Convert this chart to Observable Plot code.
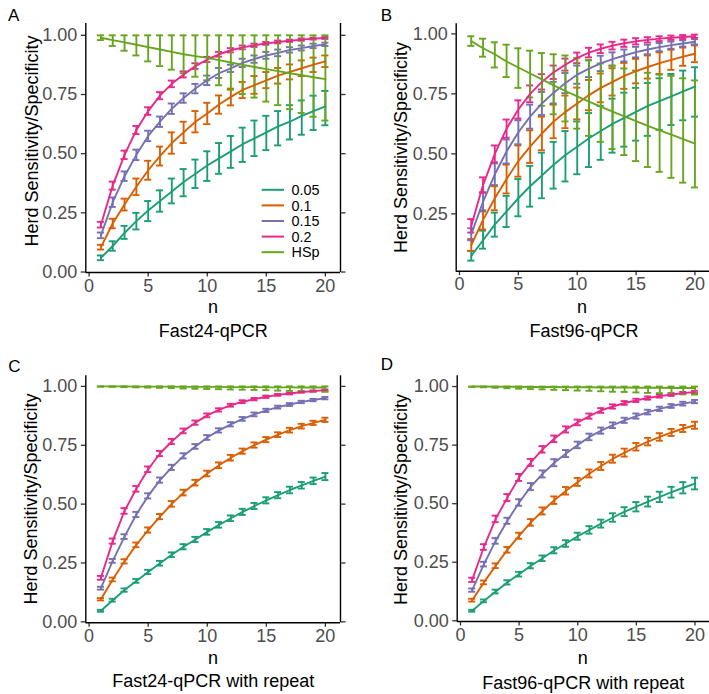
<!DOCTYPE html>
<html><head><meta charset="utf-8">
<script src="https://cdn.jsdelivr.net/npm/d3@7"></script>
<script src="https://cdn.jsdelivr.net/npm/@observablehq/plot@0.6"></script>
<style>
body{margin:0;background:#fff;}
#root{position:relative;width:709px;height:694px;overflow:hidden;background:#fff;font-family:"Liberation Sans",Arial,sans-serif;}
</style></head><body><div id="root"></div>
<script>
const n = [1,2,3,4,5,6,7,8,9,10,11,12,13,14,15,16,17,18,19,20];
const seriesNames = ["0.05","0.1","0.15","0.2","HSp"];
const colors = ["#1B9E77","#D95F02","#7570B3","#E7298A","#66A61E"];
const yTicks = [0,0.25,0.5,0.75,1];
const xTicks = [0,5,10,15,20];
const panelLetters = ["A","B","C","D"];
const captions = ["Fast24-qPCR","Fast96-qPCR","Fast24-qPCR with repeat","Fast96-qPCR with repeat"];
const yTitle = "Herd Sensitivity/Specificity";
const xTitle = "n";

// Panel A: Fast24-qPCR
const A_p05 = [0.06,0.11,0.165,0.215,0.26,0.30,0.34,0.38,0.415,0.45,0.48,0.51,0.54,0.565,0.59,0.615,0.635,0.66,0.68,0.70];
const A_p05_lo = [0.05,0.09,0.14,0.18,0.215,0.255,0.29,0.32,0.355,0.385,0.415,0.44,0.465,0.49,0.515,0.535,0.56,0.58,0.60,0.62];
const A_p05_hi = [0.07,0.13,0.195,0.25,0.30,0.345,0.395,0.435,0.475,0.51,0.545,0.575,0.61,0.64,0.66,0.68,0.705,0.725,0.745,0.765];
const A_p10 = [0.105,0.205,0.285,0.36,0.43,0.49,0.545,0.59,0.635,0.67,0.708,0.74,0.77,0.79,0.81,0.83,0.846,0.861,0.876,0.89];
const A_p10_lo = [0.095,0.185,0.26,0.325,0.39,0.45,0.5,0.545,0.59,0.625,0.669,0.704,0.735,0.753,0.777,0.796,0.814,0.828,0.845,0.866];
const A_p10_hi = [0.115,0.225,0.31,0.395,0.47,0.53,0.59,0.635,0.68,0.715,0.746,0.775,0.803,0.828,0.845,0.862,0.877,0.894,0.906,0.915];
const A_p15 = [0.155,0.295,0.405,0.495,0.575,0.635,0.69,0.735,0.775,0.81,0.84,0.86,0.884,0.90,0.915,0.926,0.938,0.946,0.955,0.962];
const A_p15_lo = [0.143,0.275,0.385,0.473,0.553,0.613,0.668,0.715,0.755,0.79,0.82,0.845,0.866,0.884,0.901,0.912,0.927,0.936,0.946,0.955];
const A_p15_hi = [0.167,0.315,0.425,0.517,0.597,0.657,0.712,0.755,0.795,0.83,0.862,0.876,0.901,0.915,0.93,0.94,0.95,0.957,0.965,0.969];
const A_p20 = [0.20,0.365,0.495,0.60,0.68,0.745,0.795,0.835,0.87,0.898,0.92,0.937,0.949,0.958,0.966,0.972,0.977,0.982,0.986,0.989];
const A_p20_lo = [0.188,0.348,0.477,0.583,0.664,0.73,0.781,0.822,0.858,0.887,0.91,0.928,0.941,0.951,0.96,0.966,0.972,0.977,0.982,0.985];
const A_p20_hi = [0.212,0.382,0.513,0.617,0.696,0.76,0.809,0.848,0.882,0.909,0.93,0.946,0.957,0.965,0.972,0.978,0.982,0.987,0.99,0.993];
const A_hsp = [0.99,0.98,0.97,0.96,0.95,0.94,0.93,0.92,0.912,0.905,0.895,0.885,0.875,0.866,0.857,0.849,0.84,0.832,0.823,0.815];
const A_hsp_lo = [0.98,0.955,0.935,0.915,0.89,0.87,0.855,0.84,0.825,0.81,0.789,0.77,0.752,0.737,0.72,0.705,0.688,0.672,0.656,0.64];
const A_hsp_hi = [1,1,1,1,1,1,1,1,1,1,1,1,1,1,1,1,1,1,1,1];

// Panel B: Fast96-qPCR
const B_p05 = [0.075,0.14,0.205,0.26,0.315,0.365,0.41,0.455,0.495,0.53,0.565,0.595,0.625,0.65,0.675,0.70,0.72,0.74,0.76,0.78];
const B_p05_lo = [0.055,0.105,0.155,0.195,0.24,0.28,0.315,0.355,0.385,0.415,0.445,0.475,0.505,0.53,0.555,0.575,0.60,0.62,0.64,0.655];
const B_p05_hi = [0.095,0.18,0.255,0.325,0.395,0.45,0.505,0.55,0.595,0.635,0.67,0.70,0.73,0.755,0.775,0.795,0.815,0.833,0.847,0.861];
const B_p10 = [0.12,0.225,0.315,0.395,0.47,0.53,0.585,0.635,0.675,0.71,0.745,0.775,0.80,0.825,0.845,0.862,0.878,0.892,0.905,0.917];
const B_p10_lo = [0.095,0.185,0.265,0.335,0.405,0.462,0.515,0.565,0.607,0.644,0.682,0.715,0.743,0.771,0.794,0.814,0.833,0.85,0.867,0.882];
const B_p10_hi = [0.145,0.265,0.365,0.455,0.535,0.598,0.655,0.705,0.743,0.776,0.808,0.835,0.857,0.879,0.896,0.91,0.923,0.934,0.943,0.952];
const B_p15 = [0.165,0.30,0.415,0.51,0.59,0.655,0.71,0.755,0.795,0.83,0.855,0.877,0.895,0.91,0.924,0.935,0.945,0.953,0.96,0.967];
const B_p15_lo = [0.14,0.26,0.37,0.46,0.54,0.605,0.662,0.71,0.753,0.792,0.82,0.845,0.867,0.885,0.902,0.915,0.928,0.938,0.947,0.956];
const B_p15_hi = [0.19,0.34,0.46,0.56,0.64,0.705,0.758,0.80,0.837,0.868,0.89,0.909,0.923,0.935,0.946,0.955,0.962,0.968,0.973,0.978];
const B_p20 = [0.20,0.37,0.50,0.605,0.685,0.75,0.80,0.84,0.872,0.90,0.922,0.938,0.951,0.961,0.969,0.975,0.98,0.984,0.987,0.99];
const B_p20_lo = [0.172,0.338,0.465,0.567,0.647,0.715,0.768,0.812,0.847,0.878,0.902,0.92,0.935,0.946,0.956,0.964,0.97,0.975,0.979,0.983];
const B_p20_hi = [0.228,0.402,0.535,0.643,0.723,0.785,0.832,0.868,0.897,0.922,0.942,0.956,0.967,0.976,0.982,0.986,0.99,0.993,0.995,0.997];
const B_hsp = [0.97,0.94,0.915,0.885,0.86,0.835,0.81,0.785,0.762,0.74,0.718,0.697,0.676,0.656,0.636,0.617,0.598,0.58,0.561,0.543];
const B_hsp_lo = [0.95,0.905,0.86,0.82,0.775,0.735,0.70,0.665,0.635,0.605,0.575,0.55,0.52,0.495,0.47,0.445,0.425,0.40,0.38,0.36];
const B_hsp_hi = [0.99,0.98,0.965,0.955,0.94,0.93,0.92,0.915,0.91,0.90,0.89,0.877,0.868,0.856,0.847,0.838,0.83,0.825,0.815,0.806];

// Panel C: Fast24-qPCR with repeat (mean and half-width of the error bar)
const C_p05 = [0.047,0.092,0.135,0.174,0.212,0.249,0.285,0.319,0.35,0.382,0.412,0.44,0.467,0.492,0.516,0.538,0.56,0.58,0.599,0.617];
const C_p05_err = [0.004,0.006,0.007,0.008,0.009,0.01,0.01,0.011,0.011,0.012,0.012,0.012,0.013,0.013,0.013,0.013,0.014,0.014,0.014,0.015];
const C_p10 = [0.096,0.18,0.257,0.327,0.39,0.447,0.501,0.549,0.591,0.63,0.665,0.697,0.725,0.751,0.774,0.795,0.814,0.831,0.845,0.858];
const C_p10_err = [0.005,0.008,0.009,0.01,0.011,0.011,0.012,0.012,0.012,0.012,0.012,0.012,0.011,0.011,0.011,0.01,0.01,0.01,0.009,0.009];
const C_p15 = [0.143,0.259,0.362,0.456,0.535,0.602,0.656,0.705,0.745,0.783,0.813,0.839,0.862,0.881,0.898,0.912,0.923,0.934,0.942,0.95];
const C_p15_err = [0.006,0.008,0.01,0.011,0.011,0.011,0.011,0.011,0.01,0.01,0.009,0.009,0.008,0.008,0.007,0.006,0.006,0.005,0.005,0.005];
const C_p20 = [0.187,0.343,0.471,0.565,0.648,0.715,0.766,0.811,0.846,0.877,0.9,0.92,0.935,0.946,0.956,0.964,0.97,0.976,0.98,0.984];
const C_p20_err = [0.008,0.011,0.012,0.012,0.012,0.011,0.011,0.01,0.009,0.008,0.007,0.006,0.006,0.005,0.005,0.004,0.004,0.003,0.003,0.003];
const C_hsp = [1.0,1.0,1.0,0.999,0.999,0.999,0.999,0.998,0.998,0.998,0.998,0.997,0.997,0.997,0.996,0.996,0.996,0.995,0.995,0.995];
const C_hsp_lo = [0.999,0.998,0.997,0.996,0.995,0.994,0.993,0.991,0.99,0.989,0.988,0.987,0.986,0.985,0.984,0.982,0.981,0.98,0.979,0.977];
const C_hsp_hi = [1,1,1,1,1,1,1,1,1,1,1,1,1,1,1,1,1,1,1,1];

// Panel D: Fast96-qPCR with repeat
const D_p05 = [0.043,0.085,0.125,0.164,0.199,0.235,0.267,0.301,0.33,0.361,0.388,0.415,0.441,0.466,0.487,0.509,0.529,0.549,0.568,0.586];
const D_p05_err = [0.004,0.006,0.008,0.009,0.01,0.011,0.012,0.013,0.014,0.015,0.016,0.017,0.018,0.019,0.02,0.021,0.022,0.023,0.024,0.025];
const D_p10 = [0.088,0.164,0.235,0.303,0.363,0.42,0.469,0.515,0.555,0.593,0.629,0.661,0.692,0.718,0.743,0.765,0.785,0.804,0.821,0.835];
const D_p10_err = [0.006,0.008,0.01,0.012,0.013,0.014,0.015,0.016,0.016,0.017,0.017,0.017,0.017,0.017,0.016,0.016,0.016,0.015,0.015,0.015];
const D_p15 = [0.131,0.242,0.341,0.427,0.505,0.573,0.627,0.675,0.714,0.751,0.785,0.812,0.835,0.856,0.874,0.891,0.905,0.917,0.927,0.936];
const D_p15_err = [0.007,0.01,0.012,0.013,0.014,0.015,0.015,0.015,0.015,0.014,0.014,0.013,0.012,0.011,0.011,0.01,0.009,0.008,0.008,0.007];
const D_p20 = [0.175,0.315,0.435,0.526,0.612,0.676,0.732,0.777,0.817,0.847,0.874,0.898,0.915,0.93,0.941,0.951,0.959,0.966,0.972,0.977];
const D_p20_err = [0.009,0.012,0.014,0.015,0.015,0.015,0.014,0.014,0.013,0.012,0.011,0.01,0.009,0.008,0.007,0.007,0.006,0.006,0.005,0.005];
const D_hsp = [1.0,1.0,0.999,0.999,0.999,0.998,0.998,0.998,0.997,0.997,0.997,0.996,0.996,0.996,0.995,0.995,0.995,0.994,0.994,0.994];
const D_hsp_lo = [0.999,0.997,0.995,0.993,0.991,0.989,0.988,0.986,0.985,0.983,0.982,0.98,0.978,0.977,0.975,0.973,0.972,0.97,0.968,0.966];
const D_hsp_hi = [1,1,1,1,1,1,1,1,1,1,1,1,1,1,1,1,1,1,1,1];

const ser = (mean, lo, hi) => ({mean, lo, hi});
const serErr = (mean, err) => ({mean, lo: mean.map((v, i) => v - err[i]), hi: mean.map((v, i) => v + err[i])});

const panels = [
  {left: 0, top: 0, w: 355, mL: 85.3, mR: 15, mT: 23, mB: 75, yDomain: [-0.002, 1.05], right: true,
   series: [ser(A_p05, A_p05_lo, A_p05_hi), ser(A_p10, A_p10_lo, A_p10_hi), ser(A_p15, A_p15_lo, A_p15_hi), ser(A_p20, A_p20_lo, A_p20_hi), ser(A_hsp, A_hsp_lo, A_hsp_hi)]},
  {left: 354, top: 0, w: 356, mL: 101.7, mR: 0.5, mT: 23.3, mB: 76.3, yDomain: [0.011, 1.042], right: false,
   series: [ser(B_p05, B_p05_lo, B_p05_hi), ser(B_p10, B_p10_lo, B_p10_hi), ser(B_p15, B_p15_lo, B_p15_hi), ser(B_p20, B_p20_lo, B_p20_hi), ser(B_hsp, B_hsp_lo, B_hsp_hi)]},
  {left: 0, top: 347, w: 355, mL: 85.3, mR: 15, mT: 28.3, mB: 71.7, yDomain: [-0.004, 1.045], right: true,
   series: [serErr(C_p05, C_p05_err), serErr(C_p10, C_p10_err), serErr(C_p15, C_p15_err), serErr(C_p20, C_p20_err), ser(C_hsp, C_hsp_lo, C_hsp_hi)]},
  {left: 354, top: 347, w: 356, mL: 102.7, mR: 0.5, mT: 28.3, mB: 73, yDomain: [-0.003, 1.046], right: false,
   series: [serErr(D_p05, D_p05_err), serErr(D_p10, D_p10_err), serErr(D_p15, D_p15_err), serErr(D_p20, D_p20_err), ser(D_hsp, D_hsp_lo, D_hsp_hi)]}
];

const root = document.getElementById("root");
const xDomain = [-0.28, 21.28];
const capHalf = 0.3;
const lw = 1.9;

panels.forEach(cfg => {
  const rows = [];
  cfg.series.forEach((s, i) => n.forEach((x, j) => rows.push({n: x, key: seriesNames[i], y: s.mean[j], lo: s.lo[j], hi: s.hi[j]})));
  const yt = yTicks.filter(t => t >= cfg.yDomain[0] && t <= cfg.yDomain[1]);
  const marks = [];
  seriesNames.forEach(k => {
    const d = rows.filter(r => r.key === k);
    marks.push(
      Plot.ruleX(d, {x: "n", y1: "lo", y2: "hi", stroke: "key", strokeWidth: lw}),
      Plot.ruleY(d, {y: "lo", x1: r => r.n - capHalf, x2: r => r.n + capHalf, stroke: "key", strokeWidth: lw}),
      Plot.ruleY(d, {y: "hi", x1: r => r.n - capHalf, x2: r => r.n + capHalf, stroke: "key", strokeWidth: lw})
    );
  });
  marks.push(Plot.line(rows, {x: "n", y: "y", z: "key", stroke: "key", strokeWidth: lw}));
  marks.push(
    Plot.axisX({ticks: xTicks, tickSize: 4.5, tickPadding: 2, stroke: "#333333", fill: "#4D4D4D", strokeWidth: 1.3, label: null}),
    Plot.axisY({ticks: yt, tickSize: 4.5, tickPadding: 4, tickFormat: d3.format(".2f"), stroke: "#333333", fill: "#4D4D4D", strokeWidth: 1.3, label: null}),
    Plot.ruleX([xDomain[0]], {stroke: "#000", strokeWidth: 1.4}),
    Plot.ruleY([cfg.yDomain[0]], {stroke: "#000", strokeWidth: 1.4})
  );
  if (cfg.right) {
    marks.push(
      Plot.ruleX([xDomain[1]], {stroke: "#000", strokeWidth: 1.4}),
      Plot.axisY({anchor: "right", ticks: yt, tickSize: 4.5, tickFormat: () => "", stroke: "#333333", strokeWidth: 1.3, label: null})
    );
  }
  const svg = Plot.plot({
    width: cfg.w, height: 347,
    marginLeft: cfg.mL, marginRight: cfg.mR, marginTop: cfg.mT, marginBottom: cfg.mB,
    x: {domain: xDomain},
    y: {domain: cfg.yDomain},
    color: {domain: seriesNames, range: colors},
    style: {fontFamily: '"Liberation Sans", Arial, sans-serif', fontSize: "18px", background: "transparent", overflow: "visible"},
    marks
  });
  svg.style.position = "absolute";
  svg.style.left = cfg.left + "px";
  svg.style.top = cfg.top + "px";
  svg.style.maxWidth = "none";
  root.appendChild(svg);
});

// text overlay: panel letters, axis titles, captions, legend
const ov = d3.select(root).append("svg")
  .attr("width", 709).attr("height", 694)
  .style("position", "absolute").style("left", "0px").style("top", "0px")
  .style("font-family", '"Liberation Sans", Arial, sans-serif');

const letterPos = [[8, 20.7], [380.7, 20.7], [8.3, 372], [380.7, 370.3]];
const yTitlePos = [[37.5, 141], [406.7, 147.5], [36.7, 499], [406.7, 499.5]];
const xTitlePos = [[213, 313.3], [582, 313.3], [213, 663.7], [582.7, 663.7]];
const capPos = [[213.3, 336.7], [584, 336.7], [213.3, 687], [583.2, 688.7]];

panelLetters.forEach((L, i) => {
  ov.append("text").attr("x", letterPos[i][0]).attr("y", letterPos[i][1]).attr("font-size", 17).attr("fill", "#000").text(L);
  ov.append("text").attr("transform", `translate(${yTitlePos[i][0]},${yTitlePos[i][1]}) rotate(-90)`)
    .attr("text-anchor", "middle").attr("font-size", 18).attr("fill", "#000").text(yTitle);
  ov.append("text").attr("x", xTitlePos[i][0]).attr("y", xTitlePos[i][1]).attr("text-anchor", "middle").attr("font-size", 18).attr("fill", "#000").text(xTitle);
  ov.append("text").attr("x", capPos[i][0]).attr("y", capPos[i][1]).attr("text-anchor", "middle").attr("font-size", 18).attr("fill", "#000").text(captions[i]);
});

// legend inside panel A
const legTop = 189.8, legStep = 15.6;
seriesNames.forEach((k, i) => {
  const y = legTop + i * legStep;
  ov.append("line").attr("x1", 261.7).attr("x2", 284).attr("y1", y).attr("y2", y).attr("stroke", colors[i]).attr("stroke-width", 2);
  ov.append("text").attr("x", 291.5).attr("y", y + 5.2).attr("font-size", 14.4).attr("fill", "#000").text(k);
});
</script></body></html>
